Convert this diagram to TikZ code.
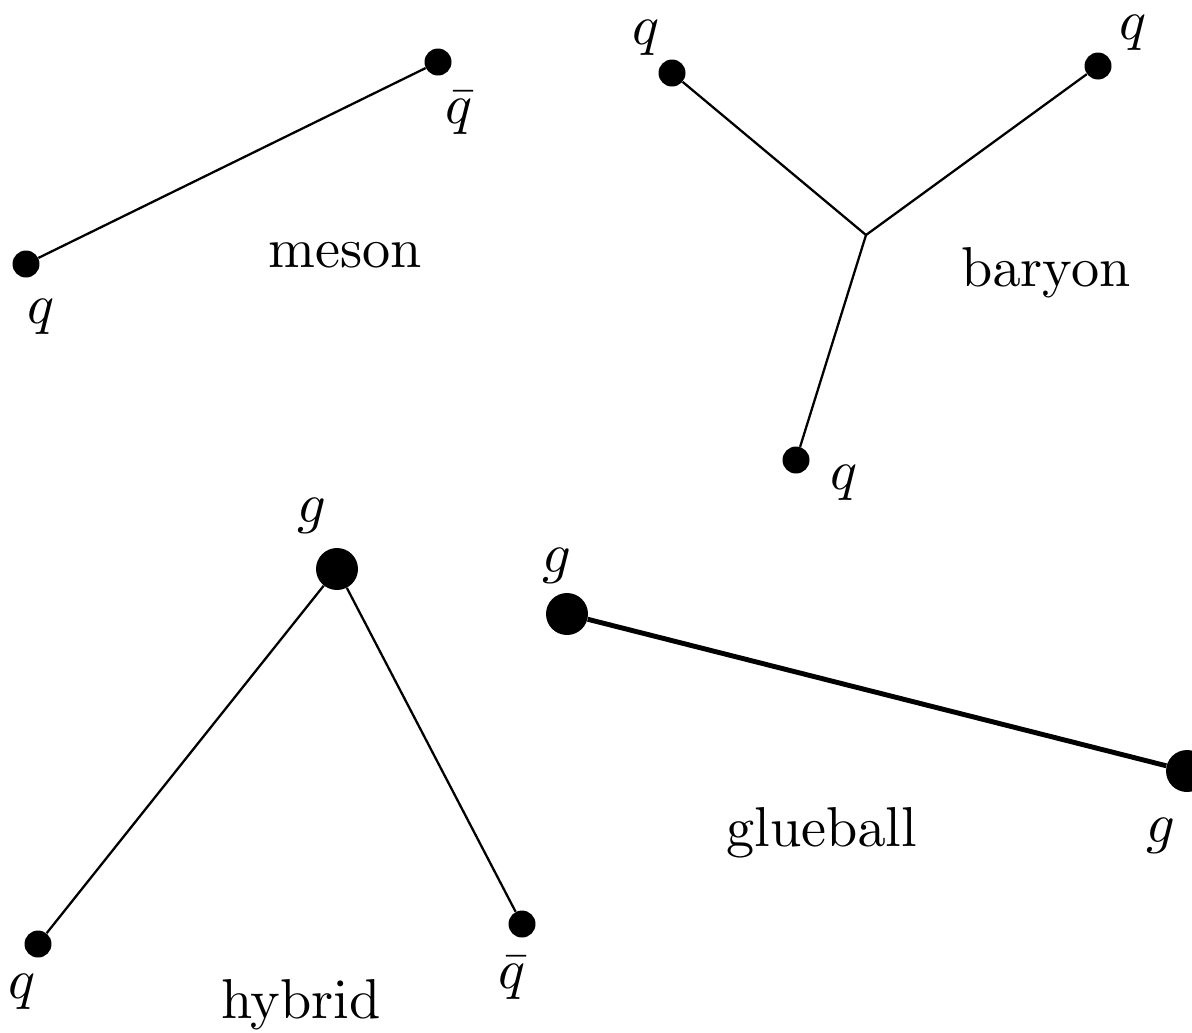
\documentclass[tikz,border=0pt]{standalone}
\DeclareFontShape{OML}{cmm}{m}{it}{<-> cmmi10}{\skewchar\font=127}
\DeclareFontShape{OT1}{cmr}{m}{n}{<-> cmr10}{}
\begin{document}
\begin{tikzpicture}[x=0.02cm,y=-0.02cm,
  small/.style={circle,fill=black,inner sep=0pt,minimum size=0.54cm},
  big/.style={circle,fill=black,inner sep=0pt,minimum size=0.84cm},
  thin string/.style={line width=1.3pt},
  thick string/.style={line width=2.8pt},
  lbl/.style={anchor=base,inner sep=0pt,font=\fontencoding{OT1}\fontfamily{cmr}\fontsize{32}{38}\selectfont}]
\useasboundingbox (0,0) rectangle (1192,1032);
% meson
\node[small] (m1) at (26,264) {};
\node[small] (m2) at (438,62) {};
\draw[thin string] (m1) -- (m2);
\node[lbl] (m1l) at (41,323) {$q$};
\node[lbl] (m2l) at (459,123) {$\bar q$};
\node[lbl] (meson) at (345,267) {meson};
% baryon
\node[small] (b1) at (672,73) {};
\node[small] (b2) at (1098,66) {};
\node[small] (b3) at (796,460) {};
\coordinate (bj) at (866,235);
\draw[thin string] (b1) -- (bj) -- (b2);
\draw[thin string] (bj) -- (b3);
\node[lbl] (b1l) at (646,44) {$q$};
\node[lbl] (b2l) at (1133,39) {$q$};
\node[lbl] (b3l) at (844,489) {$q$};
\node[lbl] (baryon) at (1046,286) {baryon};
% hybrid
\node[big] (h1) at (337,569) {};
\node[small] (h2) at (38,944) {};
\node[small] (h3) at (522,924) {};
\draw[thin string] (h2) -- (h1) -- (h3);
\node[lbl] (h1l) at (312,522) {$g$};
\node[lbl] (h2l) at (22,998) {$q$};
\node[lbl] (h3l) at (512,988) {$\bar q$};
\node[lbl] (hybrid) at (301,1018) {hybrid};
% glueball
\node[big] (g1) at (567,614) {};
\node[big] (g2) at (1187,771) {};
\draw[thick string] (g1) -- (g2);
\node[lbl] (g1l) at (557,572) {$g$};
\node[lbl] (g2l) at (1161,842) {$g$};
\node[lbl] (glueball) at (822,846) {glueball};
\end{tikzpicture}
\end{document}
